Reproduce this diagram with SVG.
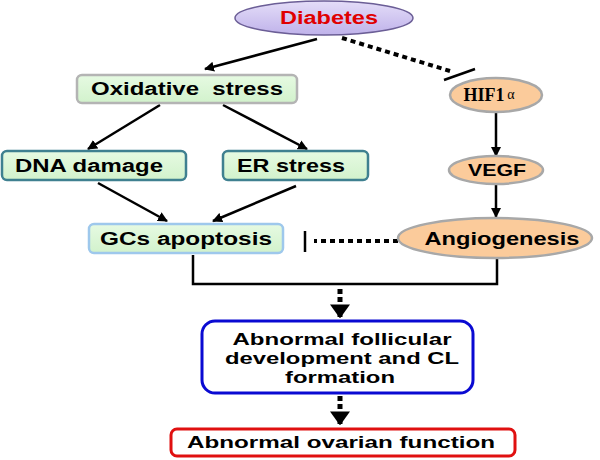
<svg xmlns="http://www.w3.org/2000/svg" width="600" height="460" viewBox="0 0 600 460">
<defs>
<linearGradient id="lav" x1="0" y1="0" x2="0" y2="1">
<stop offset="0" stop-color="#E4DDF8"/><stop offset="1" stop-color="#BFB2EA"/>
</linearGradient>
<linearGradient id="grn" x1="0" y1="0" x2="0" y2="1">
<stop offset="0" stop-color="#E6FAE2"/><stop offset="1" stop-color="#D2F2CC"/>
</linearGradient>
<marker id="ah" viewBox="0 0 10 10" refX="9" refY="5" markerWidth="10" markerHeight="10" markerUnits="userSpaceOnUse" orient="auto">
<path d="M0,0 L10,5 L0,10 Z" fill="#000"/>
</marker>
<marker id="big" viewBox="0 0 10 10" refX="9" refY="5" markerWidth="14" markerHeight="20" markerUnits="userSpaceOnUse" orient="auto" preserveAspectRatio="none">
<path d="M0,0 L10,5 L0,10 Z" fill="#000"/>
</marker>
</defs>
<style>
.t{font-family:"Liberation Sans",Arial,sans-serif;font-weight:bold;font-size:18px;fill:#000;text-anchor:middle}
.box{fill:url(#grn);stroke-width:2.5}
.org{fill:#FBCB9B;stroke:#A8A8A8;stroke-width:2.5}
.ln{stroke:#000;stroke-width:2.5;fill:none}
.dot{stroke:#000;stroke-width:4;fill:none;stroke-dasharray:5 4}
</style>
<rect width="600" height="460" fill="#fff"/>

<g id="connectors">
<line class="ln" x1="317" y1="39" x2="205" y2="69" marker-end="url(#ah)"/>
<line class="dot" x1="342" y1="38" x2="450" y2="71"/>
<line class="ln" x1="444" y1="80" x2="475" y2="69"/>
<line class="ln" x1="160" y1="105" x2="88" y2="149" marker-end="url(#ah)"/>
<line class="ln" x1="223" y1="105" x2="307" y2="149" marker-end="url(#ah)"/>
<line class="ln" x1="98" y1="183" x2="167" y2="221" marker-end="url(#ah)"/>
<line class="ln" x1="296" y1="186" x2="213" y2="221" marker-end="url(#ah)"/>
<line class="ln" x1="496" y1="112" x2="496" y2="156" marker-end="url(#ah)"/>
<line class="ln" x1="496" y1="184" x2="496" y2="217" marker-end="url(#ah)"/>
<line class="dot" x1="398" y1="241" x2="314" y2="241"/>
<line class="ln" x1="305" y1="231" x2="305" y2="252" stroke-width="3"/>
<polyline class="ln" points="193,255 193,284 497,284 497,258" stroke-width="3"/>
<line x1="340" y1="289" x2="340" y2="317" stroke="#000" stroke-width="5" stroke-dasharray="5 3" marker-end="url(#big)"/>
<line x1="340" y1="396" x2="340" y2="424" stroke="#000" stroke-width="5" stroke-dasharray="5 3" marker-end="url(#big)"/>
</g>

<g id="diabetes">
<ellipse cx="324" cy="18" rx="89" ry="17" fill="url(#lav)" stroke="#6B5E96" stroke-width="1.5"/>
<text class="t" x="329" y="24" fill="#E00000" style="fill:#E00000" textLength="98" lengthAdjust="spacingAndGlyphs">Diabetes</text>
</g>

<g id="oxidative">
<rect class="box" x="77" y="75" width="220" height="28" rx="5" stroke="#B4B4B4"/>
<text class="t" x="187" y="95" textLength="192" lengthAdjust="spacingAndGlyphs" xml:space="preserve">Oxidative  stress</text>
</g>

<g id="dna">
<rect class="box" x="2" y="151" width="184" height="29" rx="5" stroke="#3F8090"/>
<text class="t" x="89" y="172" textLength="148" lengthAdjust="spacingAndGlyphs">DNA damage</text>
</g>

<g id="er">
<rect class="box" x="223" y="151" width="145" height="29" rx="5" stroke="#3F8090"/>
<text class="t" x="291" y="172" textLength="108" lengthAdjust="spacingAndGlyphs">ER stress</text>
</g>

<g id="gcs">
<rect class="box" x="89" y="224" width="194" height="29" rx="5" stroke="#9EC8EC" stroke-width="3"/>
<text class="t" x="186" y="245" textLength="172" lengthAdjust="spacingAndGlyphs">GCs apoptosis</text>
</g>

<g id="hif">
<ellipse class="org" cx="496" cy="95" rx="46" ry="17"/>
<text x="484" y="101" font-family="'Liberation Serif','Times New Roman',serif" font-weight="bold" font-size="18" text-anchor="middle">HIF1</text>
<text x="511" y="99" font-family="'Liberation Serif','Times New Roman',serif" font-size="14" text-anchor="middle">α</text>
</g>

<g id="vegf">
<ellipse class="org" cx="496" cy="170" rx="47" ry="14"/>
<text class="t" x="497" y="176" font-size="17" style="font-size:17px" textLength="58" lengthAdjust="spacingAndGlyphs">VEGF</text>
</g>

<g id="angio">
<ellipse class="org" cx="495" cy="238" rx="97" ry="20"/>
<text class="t" x="502" y="245" textLength="155" lengthAdjust="spacingAndGlyphs">Angiogenesis</text>
</g>

<g id="follicular">
<rect x="202" y="321" width="271" height="72" rx="13" fill="#fff" stroke="#0A0AD2" stroke-width="3"/>
<text class="t" x="342" y="345" style="font-size:17px" textLength="219" lengthAdjust="spacingAndGlyphs">Abnormal follicular</text>
<text class="t" x="342" y="364" style="font-size:17px" textLength="234" lengthAdjust="spacingAndGlyphs">development and CL</text>
<text class="t" x="340" y="383" style="font-size:17px" textLength="110" lengthAdjust="spacingAndGlyphs">formation</text>
</g>

<g id="ovarian">
<rect x="171" y="429" width="344" height="27" rx="6" fill="#fff" stroke="#E01010" stroke-width="3"/>
<text class="t" x="341" y="448" style="font-size:17px" textLength="308" lengthAdjust="spacingAndGlyphs">Abnormal ovarian function</text>
</g>
</svg>
